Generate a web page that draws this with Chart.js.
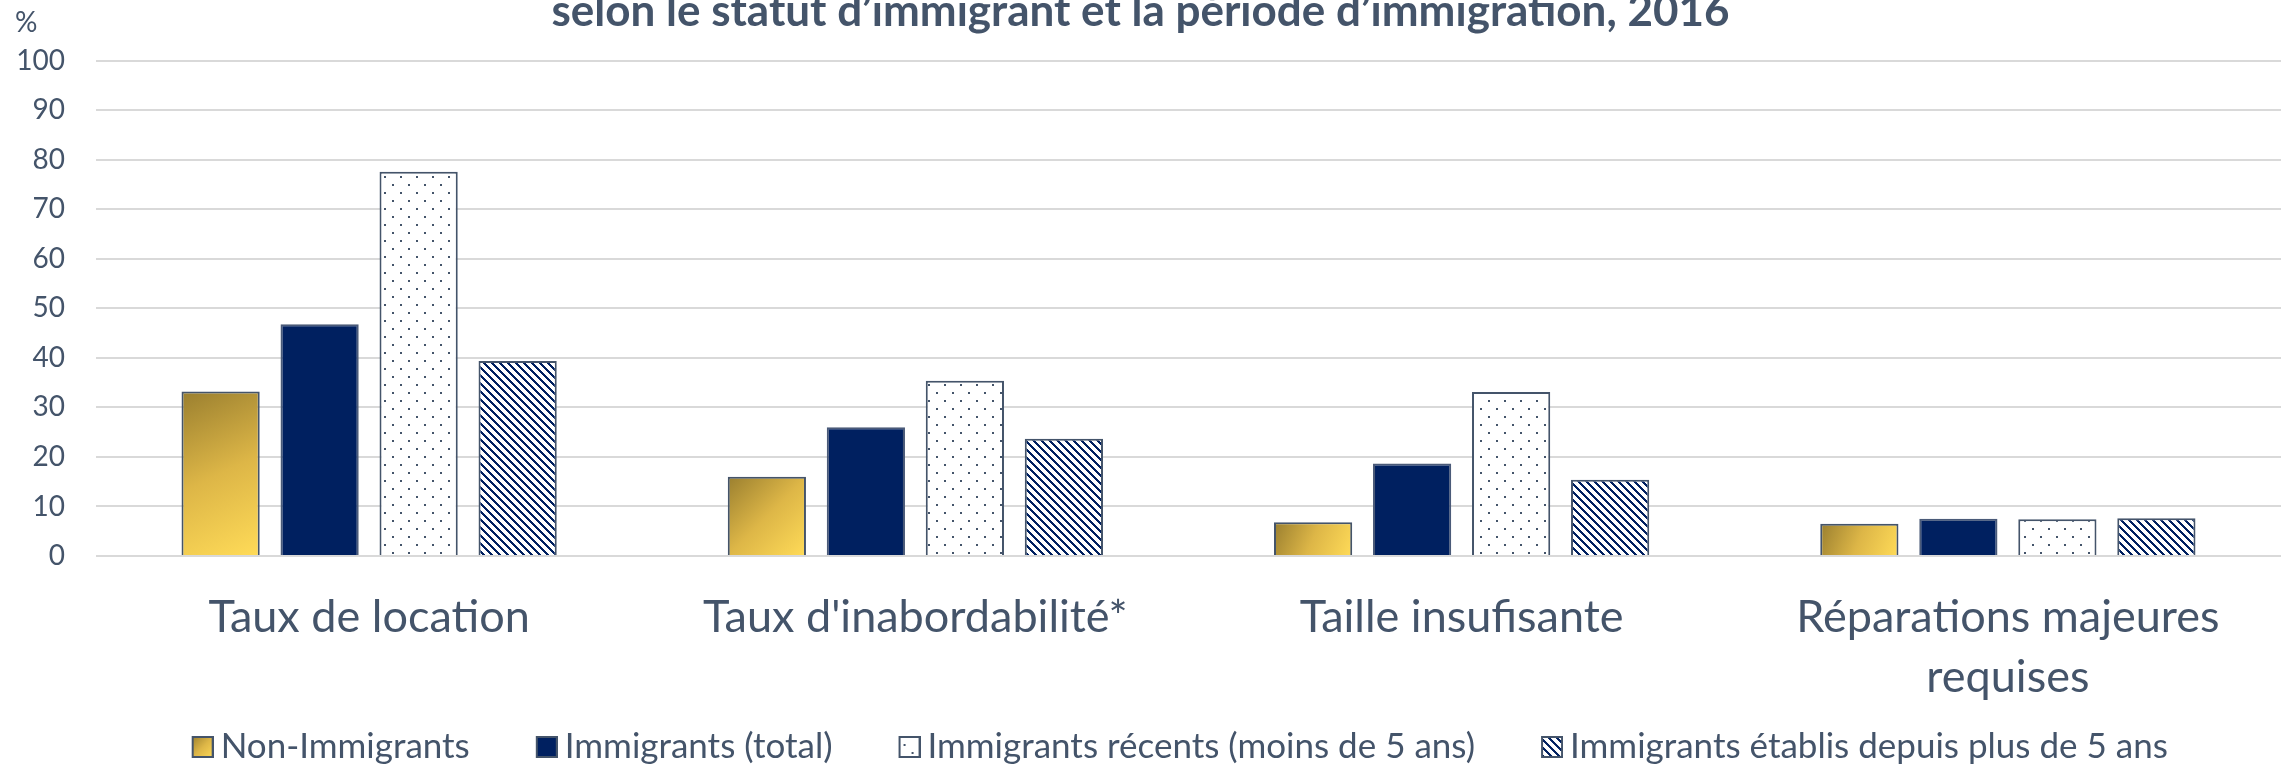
<!DOCTYPE html>
<html lang="fr">
<head>
<meta charset="utf-8">
<title>Statut d'immigrant et période d'immigration, 2016</title>
<script src="https://cdn.jsdelivr.net/npm/chart.js@4.4.1/dist/chart.umd.min.js"></script>
<style>
  html, body { margin: 0; padding: 0; background: #fff; }
  #canvas-container { width: 2288px; height: 767px; overflow: hidden; }
</style>
</head>
<body>
<div id="canvas-container"><canvas id="graficoBarras" width="2288" height="767"></canvas></div>
<script>
// Données du graphique
const categories = [['Taux de location'], ["Taux d'inabordabilité*"], ['Taille insufisante'], ['Réparations majeures', 'requises']];
const seriesNames = ['Non-Immigrants', 'Immigrants (total)', 'Immigrants récents (moins de 5 ans)', 'Immigrants établis depuis plus de 5 ans'];
const nonImmigrants = [33.2, 16.0, 6.8, 6.5];
const immigrantsTotal = [46.8, 26.0, 18.7, 7.5];
const immigrantsRecents = [77.6, 35.4, 33.1, 7.4];
const immigrantsEtablis = [39.4, 23.7, 15.4, 7.6];
const yMin = 0, yMax = 100, yStep = 10;
const titre = 'selon le statut d’immigrant et la période d’immigration, 2016';

const ardoise = '#44546A';
const marine = '#002060';

// Motifs (points et hachures) dessinés sur de petits canvas
function makeTile(w, h, draw) {
    const c = document.createElement('canvas');
    c.width = w; c.height = h;
    draw(c.getContext('2d'));
    return c;
}
const dotTile = makeTile(16, 16, g => {
    g.fillStyle = '#fff'; g.fillRect(0, 0, 16, 16);
    g.fillStyle = ardoise;
    g.fillRect(0, 0, 2, 2);
    g.fillRect(8, 8, 2, 2);
});
const stripeTile = makeTile(8, 8, g => {
    g.fillStyle = '#fff'; g.fillRect(0, 0, 8, 8);
    g.fillStyle = marine;
    for (let y = 0; y < 8; y++)
        for (let x = 0; x < 8; x++)
            if ((((x - y) % 8) + 8) % 8 < 3) g.fillRect(x, y, 1, 1);
});

const canvas = document.getElementById('graficoBarras');
const ctx = canvas.getContext('2d');
const dotPattern = ctx.createPattern(dotTile, 'repeat');
const stripePattern = ctx.createPattern(stripeTile, 'repeat');

function goldStops(g) {
    g.addColorStop(0, '#9A7F2F');
    g.addColorStop(0.5, '#DDB647');
    g.addColorStop(1, '#FFDB58');
    return g;
}

// Dégradé doré par barre (à partir de la position de l'élément)
function goldFill(context) {
    const el = context.element;
    if (!el || el.width == null || isNaN(el.x) || isNaN(el.y)) return '#DDB647';
    const left = el.x - el.width / 2;
    const top = Math.min(el.y, el.base);
    const bottom = Math.max(el.y, el.base);
    return goldStops(context.chart.ctx.createLinearGradient(left, top, left + el.width, bottom));
}

// Icônes de la légende : carré de 22 px collé à droite d'une zone transparente
const ICON_W = 73;
const legendIcons = [
    g => { g.fillStyle = goldStops(g.createLinearGradient(51, 0, 73, 22)); },
    g => { g.fillStyle = marine; },
    g => { g.fillStyle = g.createPattern(dotTile, 'repeat'); },
    g => { g.fillStyle = g.createPattern(stripeTile, 'repeat'); }
].map(setFill => makeTile(ICON_W, 22, g => {
    setFill(g);
    g.fillRect(51, 0, 22, 22);
    g.strokeStyle = ardoise; g.lineWidth = 2;
    g.strokeRect(52, 1, 20, 20);
}));

// Étiquette « % » en haut de l'axe
const percentLabel = {
    id: 'percentLabel',
    beforeDraw(chart) {
        // léger décalage de la légende vers la droite, comme l'original
        if (chart.legend) { chart.legend.left = 19; chart.legend.right = chart.width - 7 + 19; }
    },
    afterDraw(chart) {
        const c = chart.ctx;
        c.save();
        c.font = '28px Lato';
        c.fillStyle = ardoise;
        c.textBaseline = 'alphabetic';
        c.fillText('%', 15, 32);
        c.restore();
    }
};

const chart = new Chart(ctx, {
    type: 'bar',
    data: {
        labels: categories,
        datasets: [
            { label: seriesNames[0], data: nonImmigrants, backgroundColor: goldFill, borderColor: ardoise, borderWidth: 2 },
            { label: seriesNames[1], data: immigrantsTotal, backgroundColor: marine, borderColor: '#4A5A78', borderWidth: 2 },
            { label: seriesNames[2], data: immigrantsRecents, backgroundColor: dotPattern, borderColor: ardoise, borderWidth: 2 },
            { label: seriesNames[3], data: immigrantsEtablis, backgroundColor: stripePattern, borderColor: ardoise, borderWidth: 2 }
        ]
    },
    options: {
        responsive: false,
        animation: false,
        categoryPercentage: 0.725,
        barPercentage: 0.79,
        layout: { padding: { left: 0, right: 7, top: 0, bottom: -7.5 } },
        plugins: {
            title: {
                display: true,
                text: titre,
                color: ardoise,
                font: { family: 'Lato', size: 44, weight: 'bold' },
                padding: { top: -15, bottom: 23 }
            },
            legend: {
                position: 'bottom',
                labels: {
                    usePointStyle: true,
                    pointStyleWidth: 52,
                    boxHeight: 22,
                    padding: 25.5,
                    color: ardoise,
                    font: { family: 'Lato', size: 35 },
                    generateLabels: chart => chart.data.datasets.map((ds, i) => ({
                        text: ds.label,
                        pointStyle: legendIcons[i],
                        fillStyle: 'transparent',
                        strokeStyle: 'transparent',
                        lineWidth: 0,
                        fontColor: ardoise,
                        hidden: false,
                        datasetIndex: i
                    }))
                }
            },
            tooltip: { enabled: false }
        },
        scales: {
            x: {
                grid: { display: false },
                border: { display: false },
                ticks: {
                    color: ardoise,
                    padding: 24,
                    maxRotation: 0,
                    autoSkip: false,
                    font: { family: 'Lato', size: 45, lineHeight: 1.33 }
                },
                afterFit: scale => { scale.height = 148; }
            },
            y: {
                min: yMin,
                max: yMax,
                grid: { color: '#D9D9D9', lineWidth: 2, drawTicks: false },
                border: { display: false },
                ticks: {
                    stepSize: yStep,
                    padding: 31,
                    color: ardoise,
                    font: { family: 'Lato', size: 28 }
                },
                afterFit: scale => { scale.width = 96; }
            }
        }
    },
    plugins: [percentLabel]
});
// Deuxième passe : les dégradés utilisent la position des barres
chart.update();
</script>
</body>
</html>
